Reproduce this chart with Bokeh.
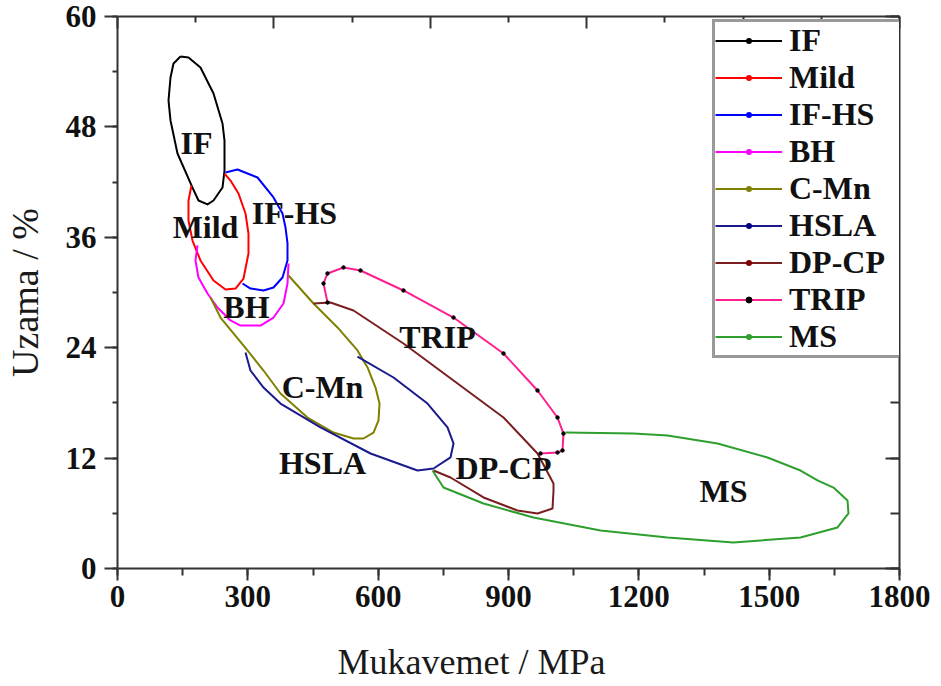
from bokeh.plotting import figure
from bokeh.models import (LinearAxis, SingleIntervalTicker, FixedTicker, Range1d,
                          Legend, LegendItem, Title)
from bokeh.core.properties import value
from bokeh.embed import file_html
from bokeh.resources import INLINE

# Strength (MPa) vs. elongation (%) envelopes of automotive steel grades
grades = ["IF", "Mild", "IF-HS", "BH", "C-Mn", "HSLA", "DP-CP", "TRIP", "MS"]

IF_strength = [145.0, 128.9, 122.0, 117.4, 122.0, 138.1, 172.6, 186.4, 207.2, 221.0,
               241.7, 246.3, 246.3, 241.7, 221.0, 191.0, 163.4, 145.0]
IF_elong = [55.65, 54.89, 53.37, 50.87, 48.70, 45.11, 41.41, 40.00, 39.57, 40.00,
            41.41, 43.26, 46.52, 48.37, 51.63, 54.46, 55.54, 55.65]

Mild_strength = [170.3, 163.4, 163.4, 172.6, 191.0, 221.0, 248.6, 271.6, 290.0, 301.5,
                 301.5, 294.6, 278.5, 260.1, 246.3]
Mild_elong = [41.63, 40.00, 37.83, 35.65, 33.48, 31.30, 30.33, 30.43, 31.52, 34.24,
              36.41, 38.59, 40.76, 42.17, 42.93]

IFHS_strength = [248.6, 276.2, 322.3, 359.1, 379.8, 386.7, 391.3, 391.3, 379.8, 359.1,
                 336.1, 306.1, 287.7]
IFHS_elong = [43.04, 43.37, 42.50, 40.33, 38.59, 37.07, 35.33, 33.48, 31.63, 30.54,
              30.22, 30.43, 30.98]

BH_strength = [184.1, 179.5, 186.4, 207.2, 230.2, 260.1, 283.1, 329.2, 359.1, 382.1,
               391.3, 393.6]
BH_elong = [35.11, 33.48, 31.63, 29.89, 28.37, 26.96, 26.41, 26.41, 27.28, 28.80,
            30.98, 33.15]

CMn_strength = [214.1, 237.1, 299.2, 336.1, 375.2, 437.3, 497.2, 543.2, 566.2, 589.3,
                600.8, 603.1, 593.9, 575.5, 552.4, 506.4, 451.2, 393.6]
CMn_elong = [29.46, 27.28, 23.70, 21.52, 19.02, 16.41, 14.78, 14.13, 14.13, 14.78,
             16.09, 17.93, 19.67, 21.85, 23.70, 26.20, 28.80, 31.85]

HSLA_strength = [294.6, 306.1, 336.1, 375.2, 467.3, 582.4, 690.5, 727.4, 766.5, 773.4,
                 759.6, 713.6, 635.3, 552.4]
HSLA_elong = [23.48, 21.52, 19.67, 17.93, 15.33, 12.50, 10.65, 10.87, 12.07, 13.59,
              15.33, 17.93, 20.76, 23.04]

DPCP_strength = [451.2, 490.3, 543.2, 658.3, 773.4, 888.5, 966.8, 1003.6, 1003.6, 1001.3,
                 966.8, 920.7, 842.5, 766.5, 727.4]
DPCP_elong = [28.80, 28.91, 28.04, 24.46, 20.43, 16.41, 12.50, 9.24, 8.48, 6.52,
              5.98, 6.30, 7.72, 9.89, 10.65]

TRIP_strength = [483.4, 474.2, 483.4, 520.2, 559.3, 658.3, 773.4, 888.5, 966.8, 1012.8,
                 1026.6, 1024.3, 1012.8, 973.7]
TRIP_elong = [28.91, 30.98, 32.07, 32.72, 32.39, 30.22, 27.28, 23.37, 19.35, 16.41,
              14.67, 12.83, 12.61, 12.50]

MS_strength = [1031.2, 1187.7, 1266.0, 1381.1, 1496.2, 1572.1, 1611.3, 1648.1, 1680.3,
               1682.6, 1657.3, 1572.1, 1417.9, 1266.0, 1111.8, 957.5, 842.5, 750.4, 725.1]
MS_elong = [14.78, 14.67, 14.46, 13.59, 12.07, 10.65, 9.57, 8.80, 7.39,
            5.98, 4.46, 3.37, 2.83, 3.37, 4.13, 5.54, 7.07, 8.80, 10.65]

# Where each grade's name sits inside the chart
label_strength = [181.8, 202.6, 407.4, 296.9, 471.9, 471.9, 888.5, 736.6, 1394.9]
label_elong = [46.20, 37.07, 38.59, 28.37, 19.78, 11.52, 10.87, 25.11, 8.37]

x_ticks_top = [0, 360, 720, 1080, 1440, 1800]
x_minor_top = [180, 540, 900, 1260, 1620]

series = [
    (IF_strength, IF_elong),
    (Mild_strength, Mild_elong),
    (IFHS_strength, IFHS_elong),
    (BH_strength, BH_elong),
    (CMn_strength, CMn_elong),
    (HSLA_strength, HSLA_elong),
    (DPCP_strength, DPCP_elong),
    (TRIP_strength, TRIP_elong),
    (MS_strength, MS_elong),
]
line_colors = ["#000000", "#ff0000", "#0000ff", "#ff00ff", "#808000",
               "#1a1a8c", "#7a1f1f", "#ff2090", "#2e9e2e"]
dot_colors = ["#000000", "#ff0000", "#0000ff", "#ff00ff", "#808000",
              "#000080", "#800000", "#000000", "#2e9e2e"]

SERIF = "Liberation Serif"
INK = "#111111"
AXIS = "#333333"

p = figure(width=941, height=686, output_backend="svg", toolbar_location=None,
           x_range=Range1d(0, 1800), y_range=Range1d(0, 60),
           x_axis_location=None, y_axis_location=None, title_location=None,
           min_border_left=117, min_border_right=42, min_border_top=16,
           min_border_bottom=118)
p.outline_line_color = None
p.grid.visible = False
p.background_fill_color = "white"

# Axes: labelled left/bottom, tick-only mirrors on right/top
left = LinearAxis(ticker=SingleIntervalTicker(interval=12, num_minor_ticks=2),
                  axis_label="Uzama / %")
bottom = LinearAxis(ticker=SingleIntervalTicker(interval=300, num_minor_ticks=2))
right = LinearAxis(ticker=SingleIntervalTicker(interval=12, num_minor_ticks=2))
top = LinearAxis(ticker=FixedTicker(ticks=x_ticks_top, minor_ticks=x_minor_top))

for ax in (left, bottom, right, top):
    ax.axis_line_color = AXIS
    ax.axis_line_width = 2
    ax.major_tick_line_color = AXIS
    ax.major_tick_line_width = 2
    ax.minor_tick_line_color = AXIS
    ax.minor_tick_line_width = 2
    ax.major_label_text_font = SERIF
    ax.major_label_text_font_style = "bold"
    ax.major_label_text_font_size = "31px"
    ax.major_label_text_color = INK

left.major_tick_out, left.major_tick_in = 13, 0
left.minor_tick_out, left.minor_tick_in = 5, 0
left.major_label_standoff = 8
left.axis_label_text_font = SERIF
left.axis_label_text_font_style = "normal"
left.axis_label_text_font_size = "38px"
left.axis_label_text_color = "#1a1a1a"
left.axis_label_standoff = 17

bottom.major_tick_out, bottom.major_tick_in = 12, 0
bottom.minor_tick_out, bottom.minor_tick_in = 7, 0
bottom.major_label_standoff = 5

right.major_tick_out, right.major_tick_in = 0, 14
right.minor_tick_out, right.minor_tick_in = 0, 9
right.major_label_text_color = None

top.major_tick_out, top.major_tick_in = 0, 12
top.minor_tick_out, top.minor_tick_in = 0, 6
top.major_label_text_color = None

p.add_layout(left, "left")
p.add_layout(bottom, "below")
p.add_layout(right, "right")
p.add_layout(top, "above")

# Blank spacer band between the tick labels and the x title
gap = LinearAxis(ticker=FixedTicker(ticks=[]), axis_label=" ")
gap.axis_line_color = None
gap.major_tick_line_color = None
gap.minor_tick_line_color = None
gap.major_tick_in = gap.major_tick_out = 0
gap.minor_tick_in = gap.minor_tick_out = 0
gap.axis_label_text_font_size = "1px"
gap.axis_label_standoff = 21
p.add_layout(gap, "below")

# x title, left-aligned with an offset from the frame's left edge
p.add_layout(Title(text="Mukavemet / MPa", align="left", offset=220,
                   text_font=SERIF, text_font_style="normal",
                   text_font_size="36px", text_color="#1a1a1a", standoff=10),
             "below")

# Envelope curves; each grade also gets a symbol renderer for its legend entry
items = []
for name, (xs, ys), lc, dc in zip(grades, series, line_colors, dot_colors):
    line_r = p.line(xs, ys, line_color=lc, line_width=2, line_join="round")
    if name == "TRIP":
        # TRIP keeps its data symbols visible along the curve
        dot_r = p.scatter(xs, ys, size=3.5, fill_color=dc, line_color=dc)
    else:
        dot_r = p.scatter(xs, ys, size=0, line_width=0, fill_color=dc, line_color=dc)
    items.append(LegendItem(label=name, renderers=[line_r, dot_r]))

# Grade names
p.text(x=label_strength, y=label_elong, text=grades,
       text_font=value(SERIF), text_font_style="bold", text_font_size="32px",
       text_color=INK, text_align="center", text_baseline="middle")

legend = Legend(items=items, location=(595, 210), margin=0, padding=0, spacing=0,
                glyph_width=67, glyph_height=15, label_standoff=7, label_height=37,
                label_width=112,
                label_text_font=SERIF, label_text_font_style="bold",
                label_text_font_size="32px", label_text_color=INK,
                border_line_color=AXIS, border_line_width=3,
                background_fill_color="white", background_fill_alpha=1.0)
p.add_layout(legend)

open("out.html", "w").write(file_html(p, INLINE))
